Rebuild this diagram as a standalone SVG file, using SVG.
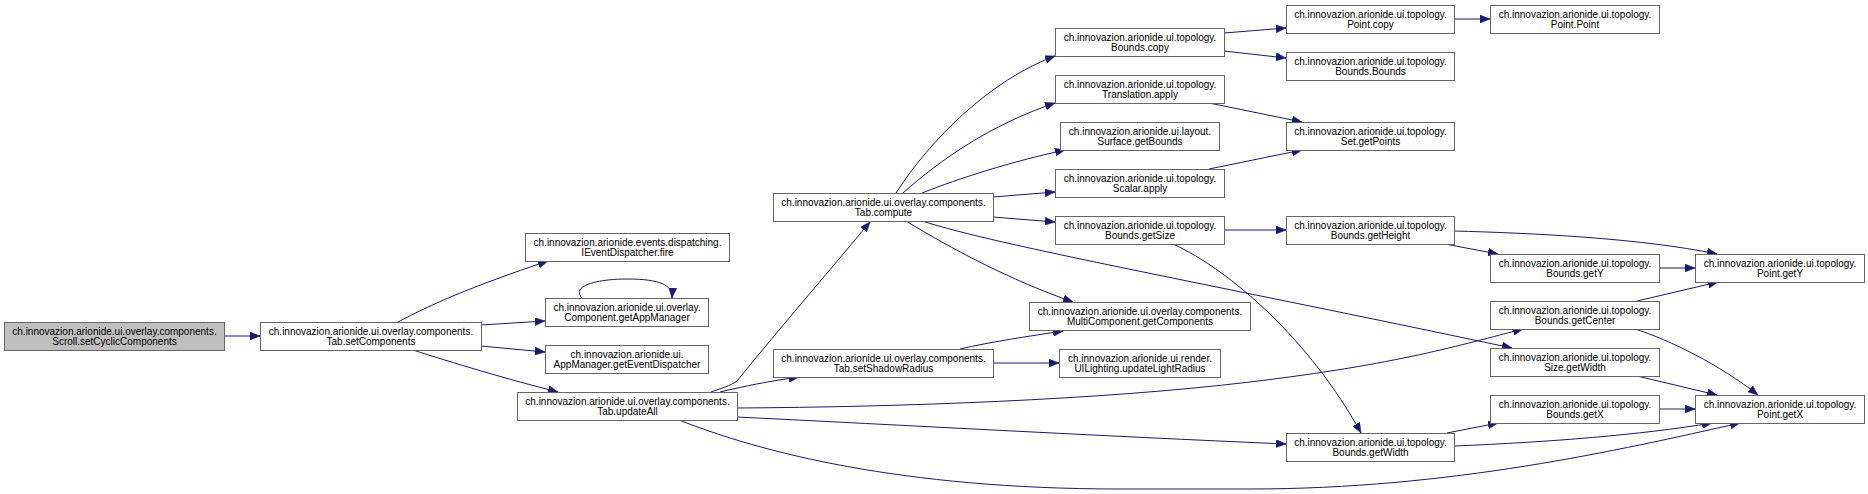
<svg xmlns="http://www.w3.org/2000/svg" width="1868" height="494" viewBox="0 0 1868 494">
<style>
.n rect{fill:#ffffff;stroke:#666666;stroke-width:1}
.n.start rect{fill:#bfbfbf}
.n text{font-family:"Liberation Sans",Arial,sans-serif;font-size:10px;fill:#000000;text-anchor:middle}
.e path{fill:none;stroke:#191970;stroke-width:1;marker-end:url(#ah)}
</style>
<defs>
<marker id="ah" markerUnits="userSpaceOnUse" markerWidth="10" markerHeight="8" refX="10" refY="4" orient="auto" viewBox="0 0 10 8">
<path d="M0,0 L10,4 L0,8 z" fill="#191970" stroke="#191970" stroke-width="0.5"/>
</marker>
</defs>
<rect width="1868" height="494" fill="#ffffff"/>
<g id="connectors" class="e">
<path d="M224,336 L260,336"/>
<path d="M398,322 C430,305 470,287 548,261"/>
<path d="M481,325 L545,321"/>
<path d="M481,346 L545,352"/>
<path d="M413,350 C450,362 510,380 558,392"/>
<path d="M582,298 C570,285 600,279 627,279 C660,279 673,285 672,298"/>
<path d="M711,392 C722,388 730,386 737,381 C770,340 830,270 870,222"/>
<path d="M720,392 C745,386 770,381 799,377"/>
<path d="M737,408 C900,407 1100,400 1250,382 S1460,345 1523,329"/>
<path d="M737,417 C900,425 1100,436 1286,444"/>
<path d="M679,420 C760,452 900,489 1120,489 L1250,489 C1450,489 1620,450 1740,423"/>
<path d="M896,193 C930,140 990,80 1055,56"/>
<path d="M903,193 C940,160 990,125 1055,103"/>
<path d="M922,193 C960,178 1010,162 1065,150"/>
<path d="M993,197 L1055,192"/>
<path d="M993,217 L1055,222"/>
<path d="M906,221 C950,248 1010,280 1073,302"/>
<path d="M922,221 C1000,246 1200,282 1512,348"/>
<path d="M960,349 C990,342 1030,336 1063,331"/>
<path d="M993,363 L1059,363"/>
<path d="M1224,33 L1286,28"/>
<path d="M1224,51 L1286,58"/>
<path d="M1209,103 L1302,122"/>
<path d="M1209,169 L1302,150"/>
<path d="M1224,230 L1286,230"/>
<path d="M1173,244 C1230,270 1310,340 1361,433"/>
<path d="M1454,19 L1490,19"/>
<path d="M1454,231 C1530,233 1640,238 1717,254"/>
<path d="M1445,244 L1498,254"/>
<path d="M1659,268 L1695,268"/>
<path d="M1637,301 L1718,282"/>
<path d="M1635,329 C1670,340 1720,365 1758,395"/>
<path d="M1637,376 L1717,395"/>
<path d="M1659,409 L1695,409"/>
<path d="M1447,433 L1498,423"/>
<path d="M1455,446 C1550,442 1640,435 1712,423"/>
</g>
<g id="n_scroll_setCyclicComponents" class="n start"><rect x="4.5" y="322.5" width="220" height="28"/><text x="114.5" y="334.5">ch.innovazion.arionide.ui.overlay.components.</text><text x="114.5" y="344.5">Scroll.setCyclicComponents</text></g>
<g id="n_tab_setComponents" class="n"><rect x="260.5" y="322.5" width="221" height="28"/><text x="371" y="334.5">ch.innovazion.arionide.ui.overlay.components.</text><text x="371" y="344.5">Tab.setComponents</text></g>
<g id="n_fire" class="n"><rect x="525.5" y="233.5" width="204" height="28"/><text x="627.5" y="245.5">ch.innovazion.arionide.events.dispatching.</text><text x="627.5" y="255.5">IEventDispatcher.fire</text></g>
<g id="n_getAppManager" class="n"><rect x="545.5" y="298.5" width="163" height="28"/><text x="627" y="310.5">ch.innovazion.arionide.ui.overlay.</text><text x="627" y="320.5">Component.getAppManager</text></g>
<g id="n_getEventDispatcher" class="n"><rect x="545.5" y="345.5" width="163" height="28"/><text x="627" y="357.5">ch.innovazion.arionide.ui.</text><text x="627" y="367.5">AppManager.getEventDispatcher</text></g>
<g id="n_updateAll" class="n"><rect x="517.5" y="392.5" width="220" height="28"/><text x="627.5" y="404.5">ch.innovazion.arionide.ui.overlay.components.</text><text x="627.5" y="414.5">Tab.updateAll</text></g>
<g id="n_compute" class="n"><rect x="773.5" y="193.5" width="220" height="28"/><text x="883.5" y="205.5">ch.innovazion.arionide.ui.overlay.components.</text><text x="883.5" y="215.5">Tab.compute</text></g>
<g id="n_setShadowRadius" class="n"><rect x="773.5" y="349.5" width="220" height="28"/><text x="883.5" y="361.5">ch.innovazion.arionide.ui.overlay.components.</text><text x="883.5" y="371.5">Tab.setShadowRadius</text></g>
<g id="n_boundsCopy" class="n"><rect x="1055.5" y="28.5" width="169" height="28"/><text x="1140" y="40.5">ch.innovazion.arionide.ui.topology.</text><text x="1140" y="50.5">Bounds.copy</text></g>
<g id="n_translationApply" class="n"><rect x="1055.5" y="75.5" width="169" height="28"/><text x="1140" y="87.5">ch.innovazion.arionide.ui.topology.</text><text x="1140" y="97.5">Translation.apply</text></g>
<g id="n_surfaceGetBounds" class="n"><rect x="1060.5" y="122.5" width="159" height="28"/><text x="1140" y="134.5">ch.innovazion.arionide.ui.layout.</text><text x="1140" y="144.5">Surface.getBounds</text></g>
<g id="n_scalarApply" class="n"><rect x="1055.5" y="169.5" width="169" height="28"/><text x="1140" y="181.5">ch.innovazion.arionide.ui.topology.</text><text x="1140" y="191.5">Scalar.apply</text></g>
<g id="n_boundsGetSize" class="n"><rect x="1055.5" y="216.5" width="169" height="28"/><text x="1140" y="228.5">ch.innovazion.arionide.ui.topology.</text><text x="1140" y="238.5">Bounds.getSize</text></g>
<g id="n_multiGetComponents" class="n"><rect x="1029.5" y="302.5" width="221" height="28"/><text x="1140" y="314.5">ch.innovazion.arionide.ui.overlay.components.</text><text x="1140" y="324.5">MultiComponent.getComponents</text></g>
<g id="n_updateLightRadius" class="n"><rect x="1059.5" y="349.5" width="161" height="28"/><text x="1140" y="361.5">ch.innovazion.arionide.ui.render.</text><text x="1140" y="371.5">UILighting.updateLightRadius</text></g>
<g id="n_pointCopy" class="n"><rect x="1286.5" y="5.5" width="168" height="28"/><text x="1370.5" y="17.5">ch.innovazion.arionide.ui.topology.</text><text x="1370.5" y="27.5">Point.copy</text></g>
<g id="n_boundsBounds" class="n"><rect x="1286.5" y="52.5" width="168" height="28"/><text x="1370.5" y="64.5">ch.innovazion.arionide.ui.topology.</text><text x="1370.5" y="74.5">Bounds.Bounds</text></g>
<g id="n_setGetPoints" class="n"><rect x="1286.5" y="122.5" width="168" height="28"/><text x="1370.5" y="134.5">ch.innovazion.arionide.ui.topology.</text><text x="1370.5" y="144.5">Set.getPoints</text></g>
<g id="n_boundsGetHeight" class="n"><rect x="1286.5" y="216.5" width="168" height="28"/><text x="1370.5" y="228.5">ch.innovazion.arionide.ui.topology.</text><text x="1370.5" y="238.5">Bounds.getHeight</text></g>
<g id="n_boundsGetWidth" class="n"><rect x="1286.5" y="433.5" width="168" height="28"/><text x="1370.5" y="445.5">ch.innovazion.arionide.ui.topology.</text><text x="1370.5" y="455.5">Bounds.getWidth</text></g>
<g id="n_pointPoint" class="n"><rect x="1490.5" y="5.5" width="169" height="28"/><text x="1575" y="17.5">ch.innovazion.arionide.ui.topology.</text><text x="1575" y="27.5">Point.Point</text></g>
<g id="n_boundsGetY" class="n"><rect x="1490.5" y="254.5" width="169" height="28"/><text x="1575" y="266.5">ch.innovazion.arionide.ui.topology.</text><text x="1575" y="276.5">Bounds.getY</text></g>
<g id="n_boundsGetCenter" class="n"><rect x="1490.5" y="301.5" width="169" height="28"/><text x="1575" y="313.5">ch.innovazion.arionide.ui.topology.</text><text x="1575" y="323.5">Bounds.getCenter</text></g>
<g id="n_sizeGetWidth" class="n"><rect x="1490.5" y="348.5" width="169" height="28"/><text x="1575" y="360.5">ch.innovazion.arionide.ui.topology.</text><text x="1575" y="370.5">Size.getWidth</text></g>
<g id="n_boundsGetX" class="n"><rect x="1490.5" y="395.5" width="169" height="28"/><text x="1575" y="407.5">ch.innovazion.arionide.ui.topology.</text><text x="1575" y="417.5">Bounds.getX</text></g>
<g id="n_pointGetY" class="n"><rect x="1695.5" y="254.5" width="169" height="28"/><text x="1780" y="266.5">ch.innovazion.arionide.ui.topology.</text><text x="1780" y="276.5">Point.getY</text></g>
<g id="n_pointGetX" class="n"><rect x="1695.5" y="395.5" width="169" height="28"/><text x="1780" y="407.5">ch.innovazion.arionide.ui.topology.</text><text x="1780" y="417.5">Point.getX</text></g>
</svg>
